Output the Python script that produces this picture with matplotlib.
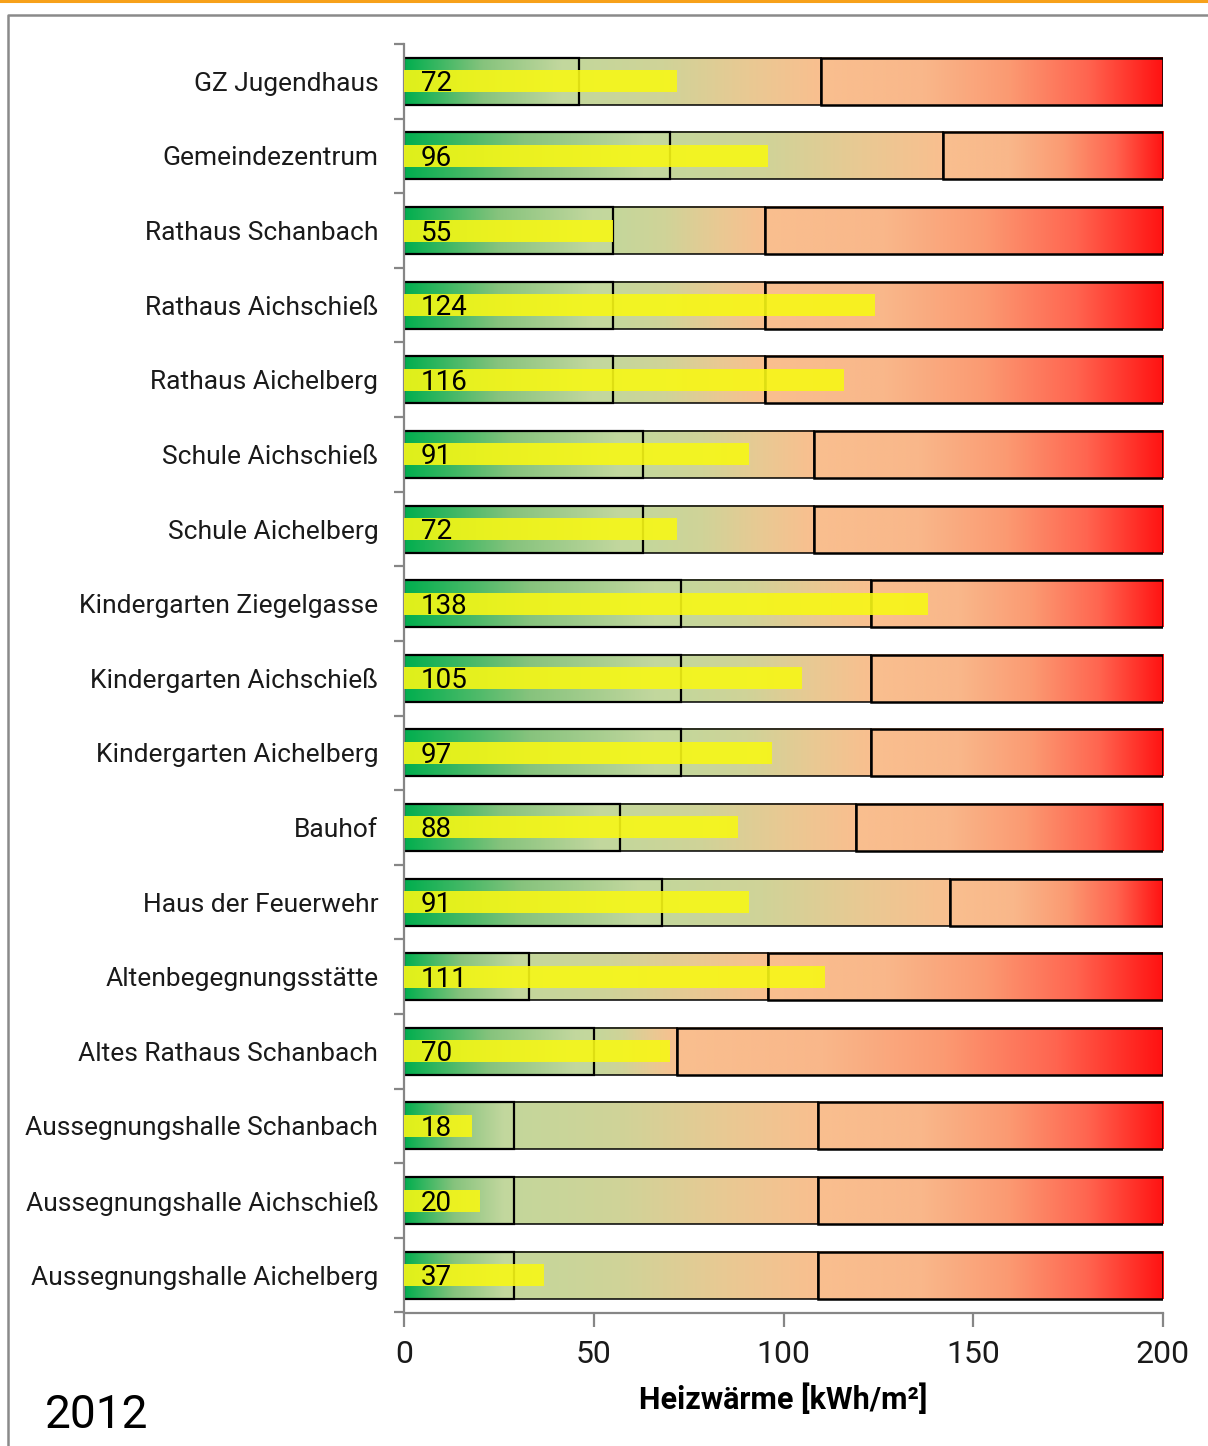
import numpy as np
import matplotlib
matplotlib.use("Agg")
import matplotlib.pyplot as plt
from matplotlib.colors import LinearSegmentedColormap
from matplotlib.lines import Line2D

plt.rcParams['font.family'] = ['Roboto', 'DejaVu Sans']

# Buildings (top to bottom)
buildings = [
    "GZ Jugendhaus", "Gemeindezentrum", "Rathaus Schanbach", "Rathaus Aichschieß",
    "Rathaus Aichelberg", "Schule Aichschieß", "Schule Aichelberg",
    "Kindergarten Ziegelgasse", "Kindergarten Aichschieß", "Kindergarten Aichelberg",
    "Bauhof", "Haus der Feuerwehr", "Altenbegegnungsstätte", "Altes Rathaus Schanbach",
    "Aussegnungshalle Schanbach", "Aussegnungshalle Aichschieß", "Aussegnungshalle Aichelberg",
]
# Heating energy consumption 2012 [kWh/m²]
consumption = [72, 96, 55, 124, 116, 91, 72, 138, 105, 97, 88, 91, 111, 70, 18, 20, 37]
# Reference bands: good (0..limit_good), average (..limit_avg), poor (..scale_max)
limit_good = [46, 70, 55, 55, 55, 63, 63, 73, 73, 73, 57, 68, 33, 50, 29, 29, 29]
limit_avg = [110, 142, 95, 95, 95, 108, 108, 123, 123, 123, 119, 144, 96, 72, 109, 109, 109]
scale_max = 200
x_ticks = [0, 50, 100, 150, 200]
year = "2012"
x_label = "Heizwärme [kWh/m²]"

cmap_good = LinearSegmentedColormap.from_list(
    "good", [(0.0, "#00AE4E"), (0.45, "#86C37D"), (0.9, "#C2D79E"), (1.0, "#C4D89D")])
cmap_avg = LinearSegmentedColormap.from_list(
    "avg", [(0.0, "#C4D79B"), (0.35, "#D0D398"), (0.7, "#E9C993"), (1.0, "#F9BF8F")])
cmap_poor = LinearSegmentedColormap.from_list(
    "poor", [(0.0, "#F9BF8F"), (0.3, "#F9B78A"), (0.55, "#FB9A72"), (0.78, "#FF6550"),
             (1.0, "#FF1212")])

W, H, DPI = 1208, 1446, 100
fig = plt.figure(figsize=(W / DPI, H / DPI), dpi=DPI)
ax = fig.add_axes([404 / W, 1 - 1312.5 / H, (1163 - 404) / W, (1312.5 - 44) / H])

n = len(buildings)
ypos = np.arange(n)
bar_h = 0.63
val_h = 0.295
ramp = np.linspace(0, 1, 256).reshape(1, -1)

for i, y in enumerate(ypos):
    segs = [(0, limit_good[i], cmap_good, 1.6),
            (limit_good[i], limit_avg[i], cmap_avg, 1.1),
            (limit_avg[i], scale_max, cmap_poor, 1.8)]
    for x0, x1, cm, lw in segs:
        ax.imshow(ramp, cmap=cm, aspect="auto", interpolation="bilinear",
                  extent=[x0, x1, y + bar_h / 2, y - bar_h / 2], zorder=1)
        ax.barh(y, x1 - x0, left=x0, height=bar_h, fill=False,
                edgecolor="black", linewidth=lw, zorder=2)

ax.barh(ypos, consumption, height=val_h, color="#F7F716", alpha=0.9,
        edgecolor="none", zorder=3)
for y, v in zip(ypos, consumption):
    ax.annotate(str(v), (0, y), xytext=(12, -7.2), textcoords="offset points",
                va="baseline", ha="left", fontsize=20, color="black", zorder=4)

ax.set_xlim(0, scale_max)
ax.set_ylim(n - 0.5, -0.5)

axis_grey = "#868686"
for side in ("top", "right"):
    ax.spines[side].set_visible(False)
for side in ("left", "bottom"):
    ax.spines[side].set_color(axis_grey)
    ax.spines[side].set_linewidth(1.6)

ax.set_yticks(ypos)
ax.set_yticklabels(buildings, fontsize=19, color="#1a1a1a")
ax.set_yticks(np.arange(n + 1) - 0.5, minor=True)
ax.tick_params(axis="y", which="major", length=0, pad=18.5)
ax.tick_params(axis="y", which="minor", length=7, width=1.6, color=axis_grey)

ax.set_xticks(x_ticks)
ax.set_xticklabels([str(t) for t in x_ticks], fontsize=23, color="#1a1a1a")
ax.tick_params(axis="x", length=10, width=1.6, color=axis_grey, pad=10)
ax.set_xlabel(x_label, fontsize=22, fontweight="bold", color="black", labelpad=10)

fig.text(45 / W, 1 - 1428 / H, year, fontsize=33, color="black", ha="left", va="baseline")

# Page decoration: orange rule and grey frame
fig.add_artist(Line2D([0, 1], [1 - 1 / H, 1 - 1 / H], color="#F7A11A", linewidth=2.2,
                      transform=fig.transFigure))
fig.add_artist(Line2D([8 / W, 8 / W, 1], [0, 1 - 15 / H, 1 - 15 / H], color="#8a8a8a",
                      linewidth=1.8, transform=fig.transFigure))

fig.savefig("out.png", dpi=DPI)
